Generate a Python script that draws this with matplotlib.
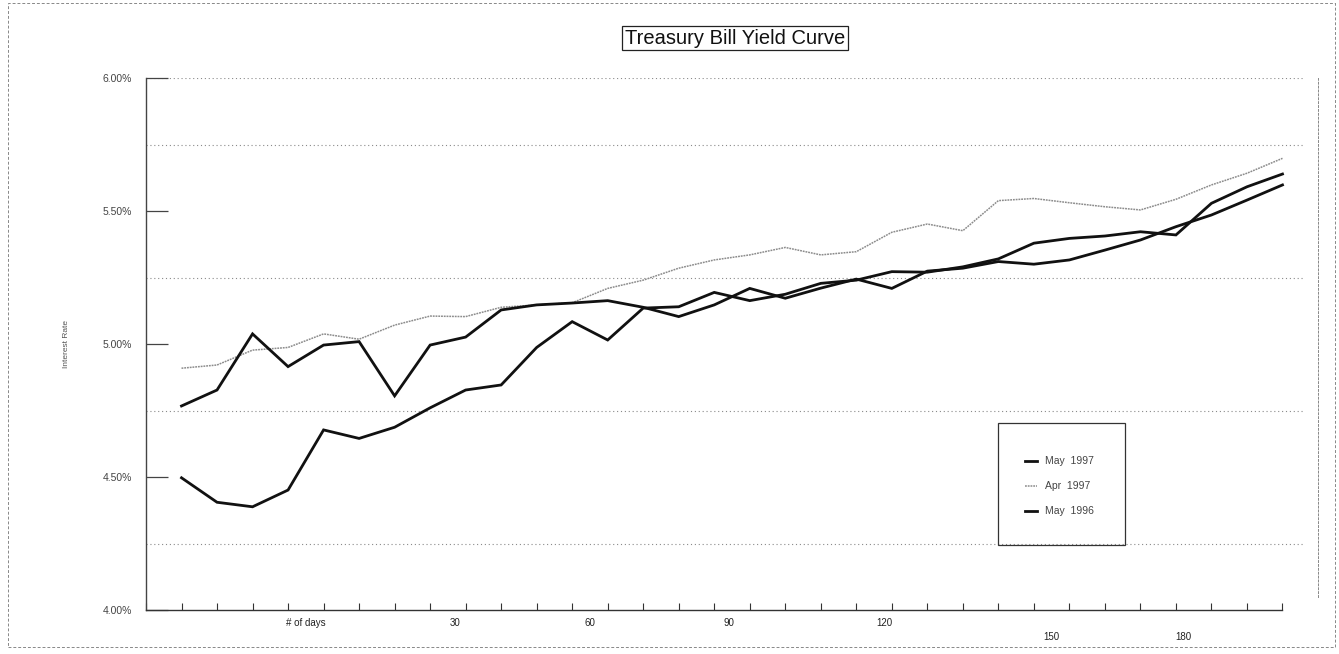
import matplotlib
matplotlib.use('Agg')
import matplotlib.pyplot as plt
from matplotlib.lines import Line2D
from matplotlib.patches import Rectangle
import matplotlib.transforms as mtransforms

plt.rcParams['font.family'] = ['Liberation Sans', 'DejaVu Sans']

W, H = 1339, 654

# ---- data ----
points = list(range(32))
may_1997 = [4.767, 4.827, 5.038, 4.915, 4.996, 5.009, 4.805, 4.996, 5.026, 5.128,
            5.147, 5.154, 5.163, 5.138, 5.103, 5.147, 5.209, 5.172, 5.210, 5.244,
            5.209, 5.274, 5.285, 5.310, 5.300, 5.316, 5.353, 5.391, 5.441, 5.485,
            5.541, 5.598]
apr_1997 = [4.909, 4.921, 4.977, 4.987, 5.038, 5.018, 5.071, 5.105, 5.103, 5.138,
            5.147, 5.155, 5.209, 5.240, 5.285, 5.316, 5.335, 5.363, 5.335, 5.347,
            5.420, 5.451, 5.426, 5.539, 5.547, 5.531, 5.516, 5.504, 5.544, 5.598,
            5.642, 5.698]
may_1996 = [4.497, 4.405, 4.388, 4.451, 4.677, 4.645, 4.687, 4.760, 4.827, 4.846,
            4.987, 5.084, 5.015, 5.135, 5.140, 5.194, 5.163, 5.187, 5.228, 5.240,
            5.272, 5.270, 5.290, 5.320, 5.379, 5.397, 5.406, 5.422, 5.410, 5.529,
            5.591, 5.639]
series_names = ['May  1997', 'Apr  1997', 'May  1996']

y_ticks = [4.0, 4.5, 5.0, 5.5, 6.0]
y_tick_labels = ['4.00%', '4.50%', '5.00%', '5.50%', '6.00%']
grid_levels = [4.25, 4.75, 5.25, 5.75, 6.0]
x_label_text = ['# of days', '30', '60', '90', '120', '150', '180']
x_label_pos = [3.5, 7.7, 11.5, 15.4, 19.8, 24.5, 28.2]
x_label_low = [False, False, False, False, False, True, True]

# ---- figure ----
fig = plt.figure(figsize=(W / 100, H / 100), dpi=100)
fig.patch.set_facecolor('white')

ax = fig.add_axes([146 / W, 1 - 610 / H, (1318 - 146) / W, (610 - 78) / H])
ax.set_xlim(-1, 32)
ax.set_ylim(4.0, 6.0)

# gridlines
ax.hlines(grid_levels, -1, 31.6, colors='#8a8a8a', linestyles=(0, (1, 2.5)), lw=0.8, zorder=1)

# lines
ax.plot(points, apr_1997, color='#8c8c8c', lw=1.1, ls=(0, (1.2, 0.6)), zorder=3)
ax.plot(points, may_1996, color='#111111', lw=2.0, solid_joinstyle='miter', zorder=4)
ax.plot(points, may_1997, color='#111111', lw=2.0, solid_joinstyle='miter', zorder=4)

# spines
ax.spines['top'].set_visible(False)
ax.spines['right'].set_linestyle((0, (2, 2)))
ax.spines['right'].set_color('#888888')
ax.spines['right'].set_linewidth(0.7)
ax.spines['right'].set_bounds(4.05, 6.0)
ax.spines['bottom'].set_bounds(-1, 31)
ax.spines['bottom'].set_color('#333333')
ax.spines['left'].set_color('#444444')
ax.spines['bottom'].set_linewidth(1.0)
ax.spines['left'].set_linewidth(1.0)

ax.set_xticks(range(-1, 32))
ax.set_xticklabels([])
ax.tick_params(axis='x', direction='in', length=5, width=0.8, color='#333333')
ax.set_yticks(y_ticks)
ax.set_yticklabels(y_tick_labels)
ax.tick_params(axis='y', direction='in', length=16, width=0.9, color='#444444',
               labelsize=7.5, labelcolor='#444444', pad=10)

# x labels
trans = mtransforms.blended_transform_factory(ax.transData, fig.transFigure)
for txt, pos, low in zip(x_label_text, x_label_pos, x_label_low):
    yp = 637 if low else 623
    ax.text(pos, 1 - yp / H, txt, transform=trans, ha='center', va='center',
            fontsize=7, color='#222222')

# y label
fig.text(66 / W, 1 - 344 / H, 'Interest Rate', rotation=90, ha='center', va='center',
         fontsize=6, color='#555555')

# title
fig.text(735 / W, 1 - 38 / H, 'Treasury Bill Yield Curve', ha='center', va='center',
         fontsize=14.5, color='#111111',
         bbox=dict(boxstyle='square,pad=0.12', fc='white', ec='#222222', lw=0.9))

# legend (manual box)
fig.add_artist(Rectangle((998 / W, 1 - 545 / H), (1125 - 998) / W, (545 - 423) / H,
                         transform=fig.transFigure, fill=False, ec='#333333', lw=0.9))
leg_styles = [dict(color='#111111', lw=2.0, ls='-'),
              dict(color='#8c8c8c', lw=1.1, ls=(0, (1.2, 0.6))),
              dict(color='#111111', lw=2.0, ls='-')]
for i, (name, st) in enumerate(zip(series_names, leg_styles)):
    yy = 1 - (461 + 25 * i) / H
    fig.add_artist(Line2D([1025 / W, 1037 / W], [yy, yy], transform=fig.transFigure, **st))
    fig.text(1045 / W, yy, name, ha='left', va='center', fontsize=7.5, color='#444444')

# outer scanned border
fig.add_artist(Rectangle((8 / W, 1 - 647 / H), (1335 - 8) / W, (647 - 3) / H,
                         transform=fig.transFigure, fill=False, ec='#888888', lw=0.7,
                         ls=(0, (3, 2))))

fig.savefig('out.png', dpi=100, facecolor='white')
